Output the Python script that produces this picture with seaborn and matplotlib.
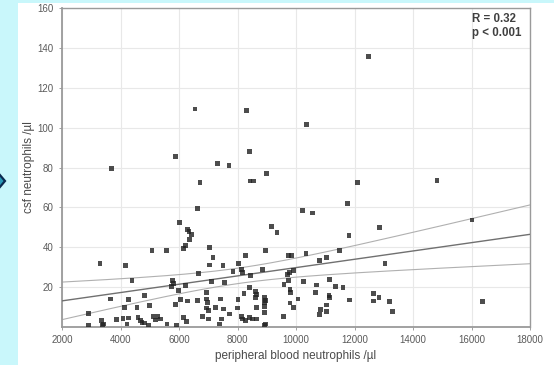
import numpy as np
import pandas as pd
import matplotlib
matplotlib.use("Agg")
import matplotlib.pyplot as plt
from matplotlib.patches import Rectangle, Polygon
import seaborn as sns

# peripheral blood neutrophils /µl
blood = [
    3700, 6550, 5890, 7310, 7710, 8310, 8420, 8430, 8560, 9000, 6720,
    12490, 10350, 12090, 14820, 11750, 10220, 10560, 12850, 11810, 11500,
    10340, 9730, 9850, 11050, 10810, 13040, 16020, 16380, 9910, 9790, 9710,
    10260, 9740, 9590, 11150, 10700, 11340, 11610, 9795, 9800, 10680, 11130,
    11150, 10070, 11820, 12640, 12840, 12660, 13210, 13310, 9795, 9920, 11050,
    10830, 11045, 10815, 9560, 9350,
    6300, 6340, 6420, 6360, 6220, 6165, 6017, 6624, 7030, 7165, 7030, 7504,
    8283, 8960, 8032, 8145, 8170, 7848, 8454, 8856, 6670, 5780, 5800, 5750,
    7120, 7565, 6230, 5990, 6930, 8225, 8626, 8660, 8626, 8910, 8945, 8910,
    8420, 6050, 6280, 6624, 6930, 6965, 7424, 8020, 5880, 6930, 7000, 7252,
    7517, 7995, 8650, 8910, 8910, 6796, 6150, 6270, 7000, 7458, 7733, 8145,
    8170, 8283, 8420, 8510, 8660, 7390, 5910, 8910, 8970, 9175,
    5080, 5570, 3300, 4180, 4393, 3670, 4276, 4826, 2903, 4150, 4563, 4997,
    5134, 5283, 5190, 5365, 4597, 4677, 4736, 3854, 4084, 4276, 3363, 3418,
    3397, 2903, 4220, 5590, 4962, 4815,
]

# csf neutrophils /µl
csf = [
    79.3, 109.3, 85.5, 82.0, 81.2, 108.7, 88.2, 73.2, 73.2, 77.0, 72.5,
    135.7, 101.5, 72.5, 73.5, 61.8, 58.3, 57.2, 49.8, 45.7, 38.5,
    37.0, 36.0, 36.0, 35.0, 33.5, 31.8, 53.7, 12.8, 28.2, 27.3, 26.5,
    23.0, 23.2, 21.3, 24.0, 21.1, 20.2, 19.8, 18.8, 17.5, 17.2, 15.9,
    14.6, 14.0, 13.5, 16.7, 14.8, 13.0, 12.8, 7.7, 12.0, 9.8, 11.0,
    8.7, 7.7, 6.2, 5.3, 47.5,
    49.0, 47.8, 46.5, 44.0, 40.7, 39.3, 52.3, 59.3, 39.8, 34.8, 31.1, 31.0,
    35.7, 38.2, 32.0, 29.0, 27.3, 27.8, 25.7, 28.8, 26.7, 23.5, 22.0, 20.5,
    22.8, 22.4, 20.7, 18.5, 17.3, 17.0, 17.7, 16.4, 14.8, 14.8, 13.2, 12.3,
    19.8, 13.6, 13.0, 13.2, 14.0, 12.3, 14.0, 13.7, 11.2, 9.5, 8.2, 9.8,
    9.0, 9.5, 9.8, 10.2, 7.3, 5.3, 4.6, 2.7, 4.0, 4.0, 6.5, 5.3,
    4.0, 3.2, 4.8, 4.0, 4.0, 1.5, 0.8, 0.7, 1.5, 50.4,
    38.2, 38.2, 31.7, 31.0, 23.5, 14.0, 13.6, 15.7, 6.7, 9.8, 9.8, 10.7,
    5.3, 5.3, 3.5, 4.0, 4.8, 3.2, 2.3, 3.7, 4.3, 4.5, 3.2, 1.5,
    0.7, 0.8, 1.5, 1.5, 0.7, 2.0,
]

x_ticks = [2000, 4000, 6000, 8000, 10000, 12000, 14000, 16000, 18000]
y_ticks = [20, 40, 60, 80, 100, 120, 140, 160]
stats_text = "R = 0.32\np < 0.001"

df = pd.DataFrame({"blood": blood, "csf": csf})

sns.set_style("whitegrid")
plt.rcParams["font.family"] = ["Liberation Sans", "DejaVu Sans"]

W, H = 554, 365
fig = plt.figure(figsize=(W / 100, H / 100), dpi=100, facecolor="#c9f7fb")

# white page area and the edge of a navigation arrow, kept behind the axes
fig.patches.append(Rectangle((18 / W, 0), 1 - 18 / W, 1 - 3 / H,
                             transform=fig.transFigure, facecolor="white",
                             edgecolor="none", zorder=-5))
fig.patches.append(Polygon([(-6 / W, 1 - 168 / H), (5 / W, 1 - 181 / H),
                            (-6 / W, 1 - 194 / H)], closed=True,
                           transform=fig.transFigure, facecolor="#2a9ab8",
                           edgecolor="#0b2a50", linewidth=1.6, zorder=-4))

ax = fig.add_axes([62 / W, (H - 327) / H, 468 / W, 319 / H])
ax.set_zorder(1)
ax.set_facecolor("white")
ax.set_xlim(2000, 18000)
ax.set_ylim(0, 160)

sns.regplot(data=df, x="blood", y="csf", ax=ax, ci=None, truncate=False,
            marker="s",
            scatter_kws={"s": 12, "color": "#202020", "edgecolor": "none",
                         "zorder": 4},
            line_kws={"color": "#707070", "linewidth": 1.0, "zorder": 3})

# 95% confidence limits of the regression line
xa = np.asarray(blood, float)
ya = np.asarray(csf, float)
n = len(xa)
b1, b0 = np.polyfit(xa, ya, 1)
res = ya - (b0 + b1 * xa)
s = np.sqrt(np.sum(res ** 2) / (n - 2))
sxx = np.sum((xa - xa.mean()) ** 2)
xs = np.linspace(2000, 18000, 200)
se = s * np.sqrt(1 / n + (xs - xa.mean()) ** 2 / sxx)
fit = b0 + b1 * xs
ci_df = pd.DataFrame({"x": np.concatenate([xs, xs]),
                      "y": np.concatenate([fit + 1.97 * se, fit - 1.97 * se]),
                      "side": ["upper"] * len(xs) + ["lower"] * len(xs)})
sns.lineplot(data=ci_df, x="x", y="y", units="side", estimator=None,
             color="#b0b0b0", linewidth=0.8, ax=ax, zorder=2)

ax.set_xticks(x_ticks)
ax.set_xticklabels([str(v) for v in x_ticks])
ax.set_yticks(y_ticks)
ax.set_yticklabels([str(v) for v in y_ticks])
ax.grid(True, color="#e8e8e8", linewidth=0.8)
ax.tick_params(axis="both", labelsize=7, labelcolor="#5a5a5a",
               color="#a0a0a0", length=2.5, width=0.7, direction="out",
               pad=3.5, left=True, bottom=True)
for side, sp in ax.spines.items():
    sp.set_visible(True)
    sp.set_color("#9a9a9a")
    sp.set_linewidth(1.3 if side in ("left", "bottom") else 1.0)

ax.set_xlabel("peripheral blood neutrophils /µl", fontsize=8.5,
              color="#4a4a4a", labelpad=3)
ax.set_ylabel("csf neutrophils /µl", fontsize=8.5, color="#4a4a4a",
              labelpad=1.5)

ax.text(0.876, 0.985, stats_text, transform=ax.transAxes, ha="left",
        va="top", fontsize=8.3, color="#404040", fontweight="bold",
        linespacing=1.2, multialignment="left")

fig.savefig("out.png", dpi=100, facecolor=fig.get_facecolor())
